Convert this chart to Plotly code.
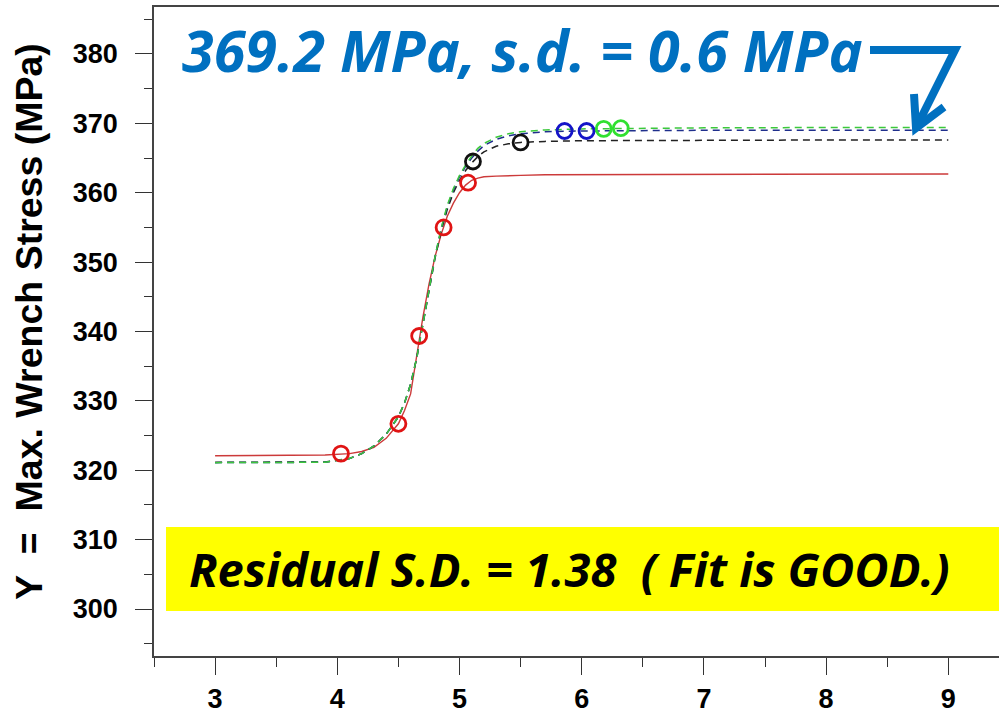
import plotly.graph_objects as go

# ---------------- data ----------------
red_x = [4.03, 4.50, 4.67, 4.87, 5.07]
red_y = [322.4, 326.7, 339.35, 355.0, 361.45]
black_x = [5.11, 5.50]
black_y = [364.5, 367.25]
blue_x = [5.86, 6.04]
blue_y = [368.9, 368.9]
green_x = [6.18, 6.32]
green_y = [369.2, 369.3]

curve_x = [3.0, 3.5, 3.9, 4.1, 4.2, 4.3, 4.4, 4.5,
           4.55, 4.6, 4.65, 4.7, 4.75, 4.8, 4.85, 4.9, 4.95, 5.0,
           5.05, 5.1, 5.15, 5.2, 5.3, 5.4, 5.5,
           5.7, 6.0, 6.5, 7.0, 8.0, 9.0]
red_fit = [322.1, 322.1, 322.2, 322.4, 322.7, 323.3, 324.6, 326.7,
           328.6, 331.0, 336.5, 342.0, 346.8, 350.8, 354.0, 356.6, 358.5, 360.0,
           361.1, 361.8, 362.1, 362.3, 362.4, 362.5, 362.5,
           362.6, 362.6, 362.7, 362.7, 362.7, 362.7]
black_fit = [321.15, 321.15, 321.2, 321.7, 322.4, 323.5, 325.2, 327.7,
             329.7, 332.4, 336.2, 341.0, 346.0, 350.6, 354.5, 357.6, 360.0, 361.8,
             363.2, 364.3, 365.2, 365.9, 366.7, 367.05, 367.25,
             367.4, 367.5, 367.55, 367.6, 367.6, 367.6]
blue_fit = [321.1, 321.1, 321.15, 321.7, 322.4, 323.5, 325.2, 327.7,
            329.7, 332.4, 336.2, 341.0, 346.1, 350.8, 354.8, 358.0, 360.4, 362.3,
            363.8, 365.0, 366.0, 366.8, 367.7, 368.2, 368.5,
            368.8, 368.9, 369.0, 369.0, 369.0, 369.0]
green_fit = [321.1, 321.1, 321.15, 321.7, 322.4, 323.5, 325.2, 327.7,
             329.7, 332.4, 336.2, 341.0, 346.1, 350.8, 354.9, 358.2, 360.6, 362.5,
             364.0, 365.3, 366.4, 367.1, 368.0, 368.5, 368.8,
             369.05, 369.2, 369.3, 369.35, 369.4, 369.4]

x_ticks = [3, 4, 5, 6, 7, 8, 9]
y_ticks = [300, 310, 320, 330, 340, 350, 360, 370, 380]

y_title = "Y\u00a0\u00a0=\u00a0\u00a0Max. Wrench Stress (MPa)"
top_note = "369.2 MPa, s.d. = 0.6 MPa"
box_note = "Residual S.D. = 1.38\u00a0\u00a0( Fit is GOOD.)"

# ---------------- layout geometry ----------------
W, H = 999, 716
L, R, T, B = 154, 999, 7, 656


def px(x):
    return (x - L) / (R - L)


def py(y):
    return (B - y) / (B - T)


fig = go.Figure()

fig.add_trace(go.Scatter(x=curve_x, y=red_fit, mode="lines",
                         line=dict(color="#cc3a3a", width=1.4), showlegend=False))
fig.add_trace(go.Scatter(x=curve_x, y=black_fit, mode="lines",
                         line=dict(color="#222222", width=1.5, dash="7px,5px"),
                         showlegend=False))
fig.add_trace(go.Scatter(x=curve_x, y=blue_fit, mode="lines",
                         line=dict(color="#1f2f8c", width=1.5, dash="7px,5px"),
                         showlegend=False))
fig.add_trace(go.Scatter(x=curve_x, y=green_fit, mode="lines",
                         line=dict(color="#3cc83c", width=1.5, dash="7px,5px"),
                         showlegend=False))

for xs, ys, col in [(red_x, red_y, "#e01414"), (black_x, black_y, "#111111"),
                    (blue_x, blue_y, "#1414c8"), (green_x, green_y, "#30e030")]:
    fig.add_trace(go.Scatter(x=xs, y=ys, mode="markers", showlegend=False,
                             marker=dict(symbol="circle-open", size=15, color=col,
                                         line=dict(width=2.8, color=col))))

tick_font = dict(family="Liberation Sans, Arial", size=27, color="#000000",
                 weight="bold")

x_min = 2.5
x_max = 2.5 + (R - L) / 122.2
fig.update_xaxes(range=[x_min, x_max], tickmode="array", tickvals=x_ticks,
                 ticktext=[str(v) for v in x_ticks],
                 ticks="outside", ticklen=17, tickwidth=1, tickcolor="#333333",
                 minor=dict(dtick=0.5, tick0=2.5, ticks="outside", ticklen=9,
                            tickwidth=1, tickcolor="#333333"),
                 showline=True, linecolor="#444444", linewidth=1.5, mirror=True,
                 showgrid=False, zeroline=False, tickfont=tick_font,
                 ticklabelstandoff=1, automargin=False)
fig.update_yaxes(range=[293.23, 386.77], tickmode="array", tickvals=y_ticks,
                 ticktext=[str(v) for v in y_ticks],
                 ticks="outside", ticklen=17, tickwidth=1, tickcolor="#333333",
                 minor=dict(dtick=5, tick0=295, ticks="outside", ticklen=8,
                            tickwidth=1, tickcolor="#333333"),
                 showline=True, linecolor="#444444", linewidth=1.5, mirror=False,
                 showgrid=False, zeroline=False, tickfont=tick_font,
                 ticklabelstandoff=12, automargin=False)

shapes = []
# yellow box
shapes.append(dict(type="rect", xref="paper", yref="paper",
                   x0=px(166), x1=px(1010), y0=py(611), y1=py(527),
                   fillcolor="#ffff00", line=dict(width=0), layer="above"))
# arrow: horizontal bar + diagonal shaft + chevron head
blue = "#0070c0"
shapes.append(dict(type="path", xref="paper", yref="paper",
                   path=f"M {px(870)},{py(50)} L {px(955)},{py(50)} L {px(917)},{py(126)}",
                   line=dict(color=blue, width=8)))
shapes.append(dict(type="path", xref="paper", yref="paper",
                   path=f"M {px(914)},{py(94)} L {px(916)},{py(128)} L {px(944)},{py(107)}",
                   line=dict(color=blue, width=8)))

annotations = [
    dict(xref="paper", yref="paper", x=px(29), y=py(322), text=y_title,
         textangle=-90, showarrow=False, xanchor="center", yanchor="middle",
         font=dict(family="Liberation Sans, Arial", size=37.5, color="#000000",
                   weight="bold")),
    dict(xref="paper", yref="paper", x=px(180), y=py(50), text=top_note,
         showarrow=False, xanchor="left", yanchor="middle",
         font=dict(family="Open Sans", size=57.5, color=blue, weight="bold",
                   style="italic")),
    dict(xref="paper", yref="paper", x=px(569), y=py(569), text=box_note,
         showarrow=False, xanchor="center", yanchor="middle",
         font=dict(family="Open Sans", size=47, color="#000000", weight="bold",
                   style="italic")),
]

fig.update_layout(width=W, height=H, margin=dict(l=L, r=W - R, t=T, b=H - B),
                  paper_bgcolor="white", plot_bgcolor="white",
                  shapes=shapes, annotations=annotations, showlegend=False)

fig.write_html("out.html")
